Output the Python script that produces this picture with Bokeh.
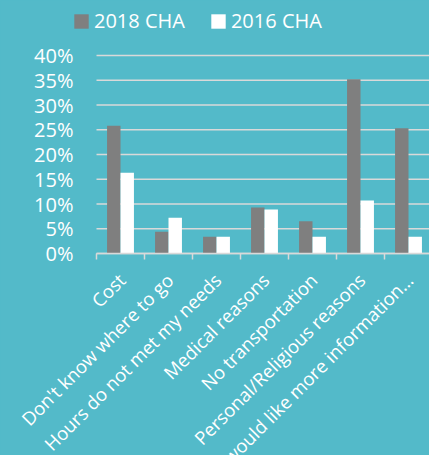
import math
import numpy as np
from bokeh.plotting import figure
from bokeh.core.properties import value
from bokeh.models import (Range1d, FixedTicker, Legend, LegendItem, LabelSet,
                          ColumnDataSource, GlobalInlineStyleSheet)
from bokeh.embed import file_html
from bokeh.resources import INLINE

categories = ["Cost", "Don't know where to go", "Hours do not met my needs",
              "Medical reasons", "No transportation", "Personal/Religious reasons",
              "I would like more information\u2026"]
cha_2018 = [0.258, 0.044, 0.034, 0.093, 0.065, 0.352, 0.253]
cha_2016 = [0.163, 0.072, 0.034, 0.089, 0.034, 0.107, 0.034]
y_ticks = [0, 0.05, 0.10, 0.15, 0.20, 0.25, 0.30, 0.35, 0.40]
y_tick_labels = ["0%", "5%", "10%", "15%", "20%", "25%", "30%", "35%", "40%"]
series_names = ["2018 CHA", "2016 CHA"]

BG = "#53BAC9"
FONT = "Open Sans"
W, H = 429, 455
PX_X = 48.0            # pixels per category
PX_Y = 198 / 0.40      # pixels per unit share
LEFT, TOP, BOTTOM = 96, 55, 202

n = len(categories)
centers = np.arange(n) + 0.5
bw = 0.28
x_end = (W - LEFT) / PX_X

p = figure(width=W, height=H, output_backend="svg", toolbar_location=None,
           x_range=Range1d(-LEFT / PX_X, x_end),
           y_range=Range1d(-BOTTOM / PX_Y, 0.40 + TOP / PX_Y),
           min_border=0, min_border_left=0, min_border_right=0,
           min_border_top=0, min_border_bottom=0)
p.background_fill_color = BG
p.border_fill_color = BG
p.outline_line_color = None
p.stylesheets = [GlobalInlineStyleSheet(css="html, body { background: %s; }" % BG)]

# horizontal grid lines, starting at the category axis origin
p.ray(x=[0] * len(y_ticks), y=y_ticks, length=0, angle=0,
      line_color="#D9D9D9", line_width=1.5)
p.yaxis.visible = False
p.ygrid.grid_line_color = None
p.xgrid.grid_line_color = None

r18 = p.vbar(x=centers - bw / 2, top=cha_2018, width=bw, fill_color="#7F7F7F", line_color=None)
r16 = p.vbar(x=centers + bw / 2, top=cha_2016, width=bw, fill_color="#FFFFFF", line_color=None)

# category axis line at 0 with ticks at category boundaries
p.xaxis.fixed_location = 0
p.xaxis.bounds = (0, x_end)
p.xaxis.ticker = FixedTicker(ticks=[], minor_ticks=list(range(n + 1)))
p.xaxis.axis_line_color = "#D9D9D9"
p.xaxis.axis_line_width = 1.5
p.xaxis.minor_tick_line_color = "#D9D9D9"
p.xaxis.minor_tick_line_width = 1.5
p.xaxis.minor_tick_out = 6
p.xaxis.minor_tick_in = 0
p.xaxis.major_tick_line_color = None
p.xaxis.major_label_text_font_size = "0px"

# y tick labels
ysrc = ColumnDataSource(dict(x=[0] * len(y_ticks), y=y_ticks, text=y_tick_labels))
p.add_layout(LabelSet(x="x", y="y", text="text", source=ysrc, x_offset=-23,
                      text_align="right", text_baseline="middle",
                      text_font=value(FONT), text_font_size="20px", text_color="white"))

# category labels, rotated
xsrc = ColumnDataSource(dict(x=centers, y=[0] * n, text=categories))
p.add_layout(LabelSet(x="x", y="y", text="text", source=xsrc, angle=math.pi / 4,
                      text_align="right", text_baseline="middle", x_offset=1, y_offset=-23,
                      text_font=value(FONT), text_font_size="18.5px", text_color="white"))

legend = Legend(items=[LegendItem(label=series_names[0], renderers=[r18]),
                       LegendItem(label=series_names[1], renderers=[r16])],
                location=(72, 421), orientation="horizontal",
                background_fill_alpha=0, border_line_alpha=0, padding=0, margin=0,
                spacing=24, label_standoff=4, glyph_width=18, glyph_height=18,
                label_text_font=FONT, label_text_font_size="20px", label_text_color="white")
p.add_layout(legend)

open("out.html", "w").write(file_html(p, INLINE))
